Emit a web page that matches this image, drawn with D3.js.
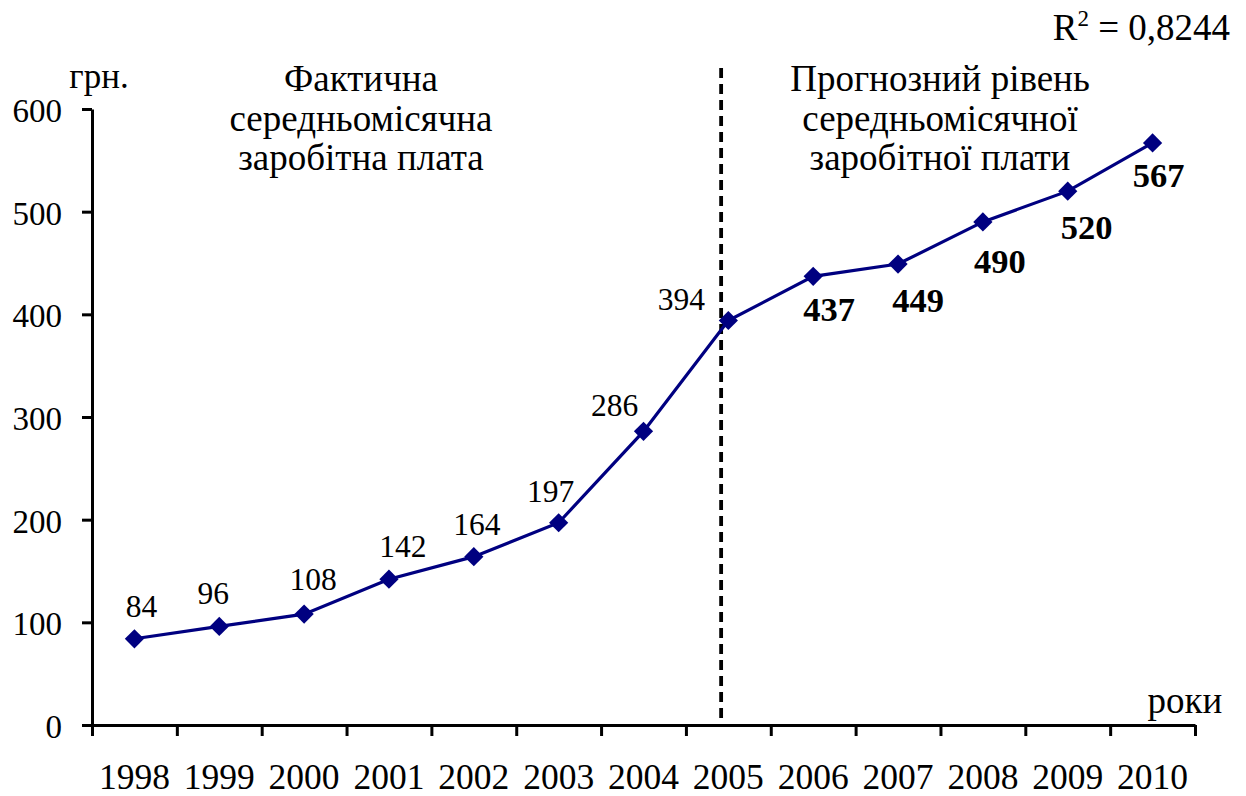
<!DOCTYPE html>
<html>
<head>
<meta charset="utf-8">
<script src="https://cdn.jsdelivr.net/npm/d3@7"></script>
<style>
  html, body { margin: 0; padding: 0; background: #fff; }
  svg { display: block; }
  svg text { font-family: "Liberation Serif", "Times New Roman", Tinos, "DejaVu Serif", serif; }
</style>
</head>
<body>
<svg id="chart" width="1246" height="796"></svg>
<script>
// ---- data ----
const years = ["1998","1999","2000","2001","2002","2003","2004","2005","2006","2007","2008","2009","2010"];
const wages = [84, 96, 108, 142, 164, 197, 286, 394, 437, 449, 490, 520, 567];
const forecastFlags = [false,false,false,false,false,false,false,false,true,true,true,true,true];
const yTicks = [0, 100, 200, 300, 400, 500, 600];
const leftNote = ["Фактична", "середньомісячна", "заробітна плата"];
const rightNote = ["Прогнозний рівень", "середньомісячної", "заробітної плати"];
const yUnit = "грн.";
const xUnit = "роки";

// ---- layout (label offsets relative to each point) ----
const labelOffsets = [
  [7,-22],[-6,-22],[9,-24],[14,-22],[3,-22],[-8,-21],[-29,-15],[-47,-10],
  [16,45],[20,48],[17,51],[19,48],[6,44]
];

const svg = d3.select("#chart");
const x0 = 92, x1 = 1195, yBottom = 725, yTop = 109;

const x = d3.scaleBand().domain(years).range([x0, x1]).padding(0);
const bw = x.bandwidth();
const y = d3.scaleLinear().domain([0, 600]).range([yBottom, yTop]);

const navy = "#000080";

// Y axis
const yAxis = svg.append("g")
  .attr("transform", `translate(${x0},0)`)
  .call(d3.axisLeft(y).tickValues(yTicks).tickSize(10).tickSizeOuter(0).tickPadding(20));
yAxis.attr("font-family", null);
yAxis.select(".domain").attr("stroke", "#000").attr("stroke-width", 3);
yAxis.selectAll(".tick line").attr("stroke", "#000").attr("stroke-width", 3);
yAxis.selectAll(".tick text")
  .attr("font-size", 33).attr("fill", "#000").attr("dy", "0.38em");

// X axis (ticks at category boundaries)
const xb = d3.scaleLinear().domain([0, years.length]).range([x0, x1]);
const xAxis = svg.append("g")
  .attr("transform", `translate(0,${yBottom})`)
  .call(d3.axisBottom(xb).tickValues(d3.range(0, years.length + 1)).tickSize(11).tickSizeOuter(0).tickFormat(""));
xAxis.select(".domain").attr("stroke", "#000").attr("stroke-width", 3);
xAxis.selectAll(".tick line").attr("stroke", "#000").attr("stroke-width", 3);

// Year labels
svg.append("g").selectAll("text").data(years).join("text")
  .attr("x", d => x(d) + bw / 2)
  .attr("y", 789)
  .attr("text-anchor", "middle")
  .attr("font-size", 35.5)
  .text(d => d);

// Dashed divider between actual and forecast
svg.append("line")
  .attr("x1", x("2005") + bw * 0.415).attr("x2", x("2005") + bw * 0.415)
  .attr("y1", 68).attr("y2", 718)
  .attr("stroke", "#000").attr("stroke-width", 3.8)
  .attr("stroke-dasharray", "10,6");

// Line
const pts = years.map((yr, i) => ({yr, v: wages[i], f: forecastFlags[i], off: labelOffsets[i]}));
svg.append("path")
  .datum(pts)
  .attr("fill", "none")
  .attr("stroke", navy)
  .attr("stroke-width", 3.2)
  .attr("d", d3.line().x(d => x(d.yr) + bw / 2).y(d => y(d.v)));

// Markers (diamonds)
svg.append("g").selectAll("path").data(pts).join("path")
  .attr("transform", d => `translate(${x(d.yr) + bw / 2},${y(d.v)}) rotate(45)`)
  .attr("d", d3.symbol().type(d3.symbolSquare).size(185))
  .attr("fill", navy);

// Data labels
svg.append("g").selectAll("text").data(pts).join("text")
  .attr("x", d => x(d.yr) + bw / 2 + d.off[0])
  .attr("y", d => y(d.v) + d.off[1])
  .attr("text-anchor", "middle")
  .attr("font-size", d => d.f ? 34.5 : 31.5)
  .attr("font-weight", d => d.f ? "bold" : "normal")
  .text(d => d.v);

// Unit labels
svg.append("text").attr("x", 99).attr("y", 88).attr("text-anchor", "middle").attr("font-size", 35).text(yUnit);
svg.append("text").attr("x", 1185).attr("y", 713).attr("text-anchor", "middle").attr("font-size", 37).text(xUnit);

// R^2
const r2 = svg.append("text").attr("x", 1230).attr("y", 40).attr("text-anchor", "end").attr("font-size", 37);
r2.append("tspan").text("R");
r2.append("tspan").attr("font-size", 23).attr("dy", -14).text("2");
r2.append("tspan").attr("dy", 14).text(" = 0,8244");

// Notes
function note(lines, cx) {
  svg.append("g").selectAll("text").data(lines).join("text")
    .attr("x", cx).attr("y", (d, i) => 91 + i * 39.5)
    .attr("text-anchor", "middle").attr("font-size", 37)
    .text(d => d);
}
note(leftNote, 361);
note(rightNote, 940);
</script>
</body>
</html>
